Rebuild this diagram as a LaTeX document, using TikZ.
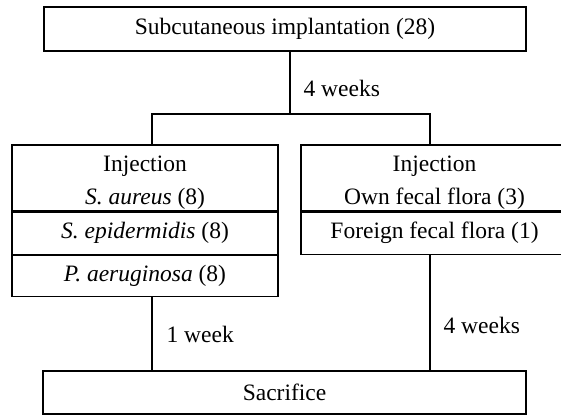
\documentclass[tikz,border=0pt]{standalone}
\usepackage{fontspec}
\setmainfont{Liberation Serif}
\usepackage{tikz}
\usetikzlibrary{positioning}
\begin{document}
\begin{tikzpicture}[
	x=1pt, y=-1pt,
	line width=1.2pt,
	font=\fontsize{23.5}{33}\selectfont
]
\tikzset{
    cellbox/.style = {rectangle, draw=black, align=center, inner sep=0pt},
		steplabel/.style = {anchor=west, inner sep=0pt}
}
\clip (0,0) rectangle (561,415);
\node[cellbox,minimum width=482,minimum height=44] (implant) at (285,29) {Subcutaneous implantation (28)};
% left column
\node[cellbox,minimum width=266,minimum height=66] (injL) at (145,178) {\rule{0pt}{25pt}Injection\\\textit{S. aureus} (8)};
\node[cellbox,minimum width=266,minimum height=42,below=0pt of injL] (epi) {\textit{S. epidermidis} (8)};
\node[cellbox,minimum width=266,minimum height=41,below=0pt of epi] (pae) {\textit{P. aeruginosa} (8)};
% right column
\node[cellbox,minimum width=267,minimum height=66] (injR) at (434.5,178) {\rule{0pt}{25pt}Injection\\Own fecal flora (3)};
\node[cellbox,minimum width=267,minimum height=42,below=0pt of injR] (foreign) {Foreign fecal flora (1)};
\node[cellbox,minimum width=483,minimum height=43] (sacr) at (284.5,392.5) {Sacrifice};
\coordinate (jC) at (290,114);
\coordinate (jL) at (152,114);
\coordinate (jR) at (430,114);
\draw (implant.south -| jC) -- (jC);
\draw (jL |- injL.north) -- (jL) -- (jR) -- (jR |- injR.north);
\draw (pae.south -| jL) -- (jL |- sacr.north);
\draw (foreign.south -| jR) -- (jR |- sacr.north);
\node[steplabel] (wkA) at (303,88) {4 weeks};
\node[steplabel] (wkB) at (166,334) {1 week};
\node[steplabel] (wkC) at (443,325) {4 weeks};
\end{tikzpicture}
\end{document}
